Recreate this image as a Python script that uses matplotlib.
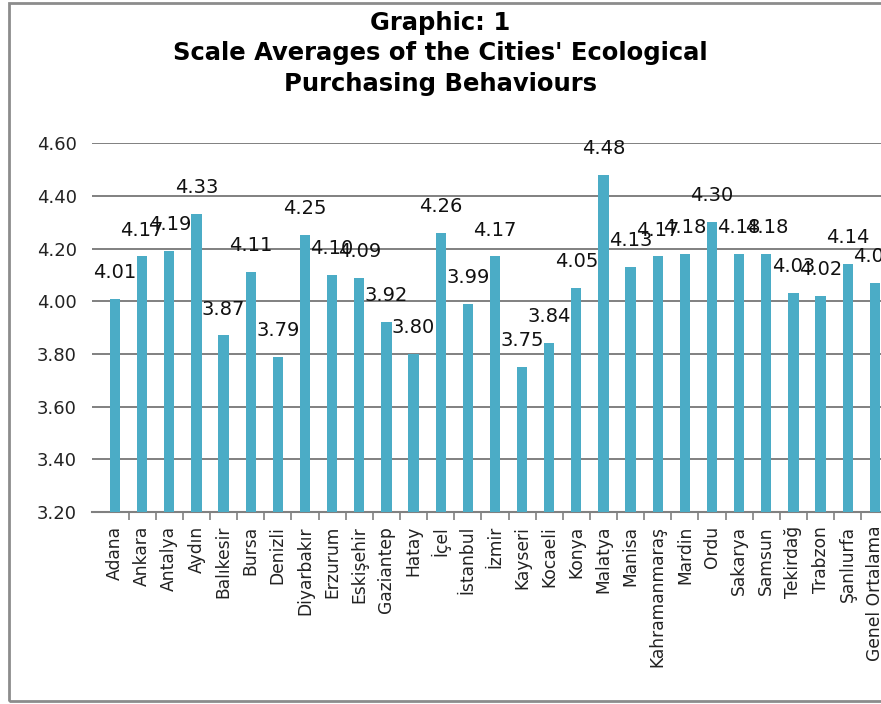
import matplotlib
matplotlib.use("Agg")
import matplotlib.pyplot as plt
from matplotlib.patches import Rectangle
import numpy as np

# city names and scale averages
cities = ['Adana', 'Ankara', 'Antalya', 'Aydın', 'Balıkesir', 'Bursa', 'Denizli',
          'Diyarbakır', 'Erzurum', 'Eskişehir', 'Gaziantep', 'Hatay', 'İçel',
          'İstanbul', 'İzmir', 'Kayseri', 'Kocaeli', 'Konya', 'Malatya', 'Manisa',
          'Kahramanmaraş', 'Mardin', 'Ordu', 'Sakarya', 'Samsun', 'Tekirdağ',
          'Trabzon', 'Şanlıurfa', 'Genel Ortalama']
averages = [4.01, 4.17, 4.19, 4.33, 3.87, 4.11, 3.79, 4.25, 4.10, 4.09, 3.92, 3.80,
            4.26, 3.99, 4.17, 3.75, 3.84, 4.05, 4.48, 4.13, 4.17, 4.18, 4.30, 4.18,
            4.18, 4.03, 4.02, 4.14, 4.07]
y_ticks = [3.20, 3.40, 3.60, 3.80, 4.00, 4.20, 4.40, 4.60]

bar_color = '#4BACC6'
grid_color = '#808080'

fig = plt.figure(figsize=(8.81, 7.04), dpi=100)

# outer chart border (right side runs off the picture like the original)
fig.add_artist(Rectangle((9 / 881, 3 / 704), 1.2, 698 / 704, transform=fig.transFigure,
                         fill=False, edgecolor='#8c8c8c', linewidth=2, clip_on=False))

ax = fig.add_axes([0.1044, 0.2727, 0.904, 0.524])

x = np.arange(len(cities))
ax.bar(x, averages, width=0.38, color=bar_color, zorder=3)

ax.set_ylim(3.2, 4.6)
ax.set_xlim(-0.85, 28.5)
ax.set_yticks(y_ticks)
ax.set_yticklabels([f'{v:.2f}' for v in y_ticks], fontsize=13, color='#222222')
ax.tick_params(axis='y', length=0, pad=11)
ax.yaxis.grid(True, color=grid_color, linewidth=1.4, zorder=0)

ax.set_xticks(x)
ax.set_xticklabels(cities, rotation=90, fontsize=12.3, color='#222222')
ax.tick_params(axis='x', which='major', length=0, pad=10)
ax.set_xticks(x[:-1] + 0.5, minor=True)
ax.tick_params(axis='x', which='minor', length=6, color=grid_color, width=1.2)

for side in ['left', 'right', 'top']:
    ax.spines[side].set_visible(False)
ax.spines['bottom'].set_color(grid_color)
ax.spines['bottom'].set_linewidth(1.5)

# value labels sit a little above each bar
for xi, v in zip(x, averages):
    ax.annotate(f'{v:.2f}', (xi, v), xytext=(0, 19), textcoords='offset points',
                ha='center', va='center', fontsize=14, color='#111111', zorder=4,
                annotation_clip=False)

fig.text(0.5, 0.985, 'Graphic: 1\nScale Averages of the Cities\' Ecological\nPurchasing Behaviours',
         ha='center', va='top', fontsize=17.5, fontweight='bold', linespacing=1.35)

fig.savefig('out.png', dpi=100)
